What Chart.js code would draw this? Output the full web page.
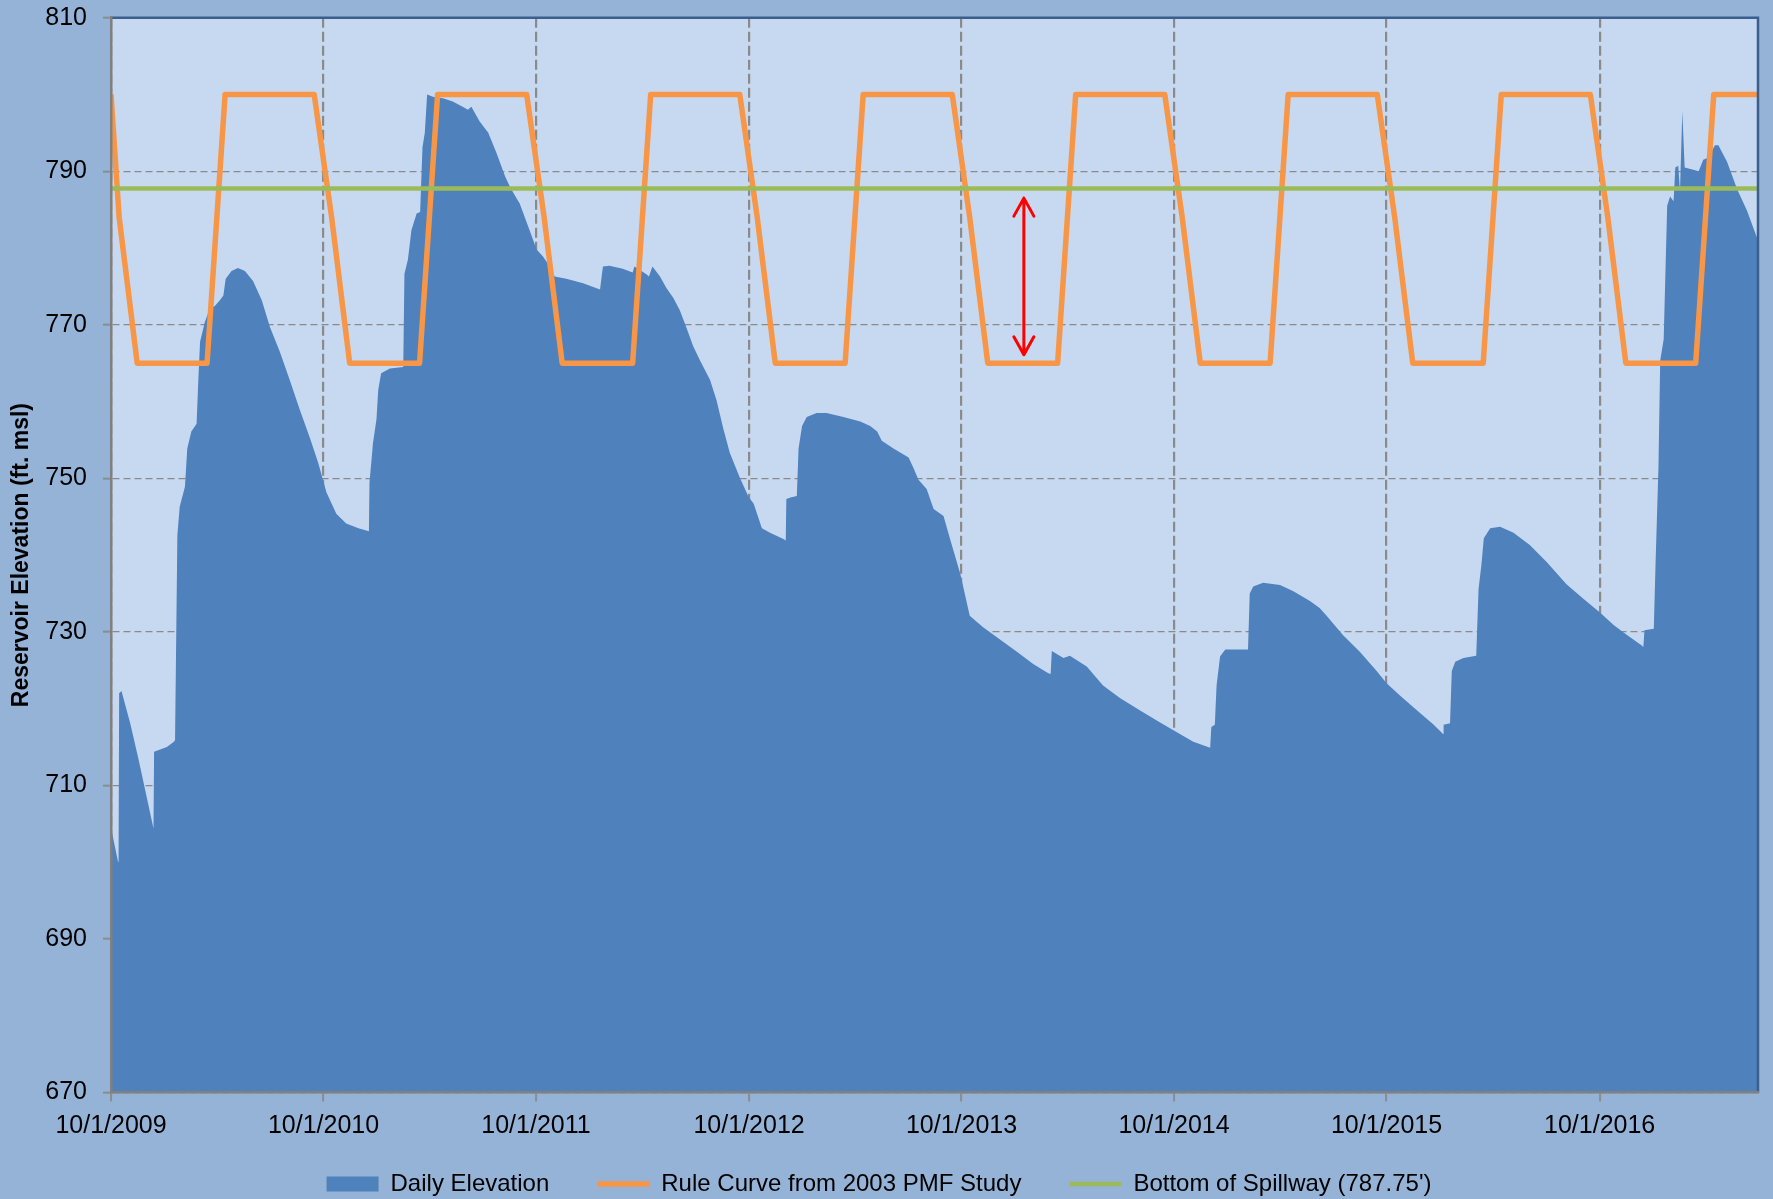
<!DOCTYPE html>
<html>
<head>
<meta charset="utf-8">
<title>Reservoir Elevation</title>
<script src="https://cdn.jsdelivr.net/npm/chart.js@4.4.1/dist/chart.umd.min.js"></script>
<style>
  html, body { margin: 0; padding: 0; background: #95B3D7; }
  #wrap { width: 1773px; height: 1199px; }
</style>
</head>
<body>
<div id="wrap"><canvas id="chart" width="1773" height="1199"></canvas></div>
<script>
// Daily elevation (ft. msl)
const elevDates = [
    '10/1/2009', '10/13/2009', '10/14/2009', '10/15/2009', '10/19/2009', '11/3/2009', '11/17/2009', '12/13/2009',
    '12/14/2009', '1/5/2010', '1/17/2010', '1/19/2010', '1/23/2010', '1/27/2010', '2/5/2010', '2/9/2010',
    '2/16/2010', '2/25/2010', '2/28/2010', '3/3/2010', '3/11/2010', '3/20/2010', '3/28/2010', '4/6/2010',
    '4/12/2010', '4/16/2010', '4/26/2010', '5/7/2010', '5/19/2010', '6/2/2010', '6/17/2010', '7/1/2010',
    '7/18/2010', '8/4/2010', '8/21/2010', '9/8/2010', '9/22/2010',
    '10/6/2010', '10/23/2010', '11/9/2010', '11/30/2010', '12/18/2010', '12/19/2010', '12/22/2010', '12/25/2010',
    '12/31/2010', '1/3/2011', '1/8/2011', '1/23/2011', '2/15/2011', '2/17/2011', '2/23/2011', '3/1/2011',
    '3/10/2011', '3/16/2011', '3/20/2011', '3/24/2011', '3/28/2011', '4/7/2011', '4/24/2011', '5/11/2011',
    '5/28/2011', '6/6/2011', '6/12/2011', '6/26/2011', '7/11/2011', '7/25/2011', '8/9/2011', '8/17/2011',
    '8/26/2011', '9/3/2011', '9/20/2011',
    '10/2/2011', '10/13/2011', '10/22/2011', '11/2/2011', '11/22/2011', '12/21/2011', '1/19/2012', '1/24/2012',
    '2/4/2012', '2/27/2012', '3/15/2012', '3/18/2012', '4/7/2012', '4/12/2012', '4/18/2012', '5/1/2012',
    '5/12/2012', '5/24/2012', '6/4/2012', '6/15/2012', '6/27/2012', '7/9/2012', '7/26/2012', '8/6/2012',
    '8/18/2012', '8/29/2012', '9/15/2012', '9/30/2012',
    '10/9/2012', '10/23/2012', '11/6/2012', '11/29/2012', '12/3/2012', '12/4/2012', '12/11/2012', '12/22/2012',
    '12/25/2012', '12/31/2012', '1/8/2013', '1/25/2013', '2/11/2013', '3/12/2013', '4/10/2013', '4/27/2013',
    '5/9/2013', '5/17/2013', '6/6/2013', '7/2/2013', '7/10/2013', '7/19/2013', '8/2/2013', '8/14/2013',
    '8/31/2013', '9/12/2013', '9/29/2013',
    '10/15/2013', '11/7/2013', '12/6/2013', '1/4/2014', '2/1/2014', '2/27/2014', '3/3/2014', '3/5/2014',
    '3/25/2014', '4/5/2014', '5/4/2014', '6/1/2014', '6/30/2014', '8/3/2014', '9/7/2014',
    '10/11/2014', '11/3/2014', '12/2/2014', '12/4/2014', '12/10/2014', '12/13/2014', '12/19/2014', '12/28/2014',
    '1/16/2015', '2/5/2015', '2/8/2015', '2/14/2015', '3/3/2015', '4/1/2015', '4/24/2015', '5/23/2015',
    '6/8/2015', '6/20/2015', '7/18/2015', '8/16/2015', '9/14/2015',
    '10/1/2015', '10/24/2015', '11/22/2015', '12/21/2015', '1/6/2016', '1/7/2016', '1/18/2016', '1/21/2016',
    '1/27/2016', '2/10/2016', '3/3/2016', '3/7/2016', '3/12/2016', '3/16/2016', '3/27/2016', '4/13/2016',
    '5/6/2016', '6/3/2016', '7/2/2016', '8/5/2016', '9/3/2016',
    '10/2/2016', '10/25/2016', '11/17/2016', '12/13/2016', '12/15/2016', '12/17/2016', '1/2/2017', '1/5/2017',
    '1/10/2017', '1/13/2017', '1/19/2017', '1/25/2017', '1/30/2017', '2/5/2017', '2/8/2017', '2/13/2017',
    '2/16/2017', '2/20/2017', '2/24/2017', '3/11/2017', '3/20/2017', '3/28/2017', '4/6/2017', '4/17/2017',
    '4/23/2017', '5/8/2017', '5/25/2017', '6/11/2017', '6/28/2017', '6/30/2017'
];
const elevValues = [
    704.5, 700.1, 700.0, 722.0, 722.3, 718.1, 713.5, 704.4,
    714.4, 715.0, 715.7, 715.9, 742.6, 746.3, 748.9, 753.9,
    756.1, 757.1, 762.8, 767.8, 770.3, 772.2, 772.4, 773.2,
    773.8, 776.0, 777.0, 777.4, 777.0, 775.7, 773.2, 769.7,
    766.5, 762.8, 759.0, 755.2, 752.0,
    748.2, 745.4, 744.1, 743.5, 743.1, 749.5, 752.0, 754.6,
    757.7, 761.5, 763.7, 764.3, 764.5, 776.6, 778.5, 782.3,
    784.5, 784.7, 793.1, 795.0, 800.0, 799.7, 799.5, 799.1,
    798.4, 798.0, 798.4, 796.5, 795.0, 792.4, 789.3, 788.0,
    786.8, 785.8, 782.3,
    779.8, 778.9, 777.9, 776.3, 776.0, 775.4, 774.6, 777.6,
    777.7, 777.3, 776.8, 777.6, 776.6, 776.3, 777.6, 776.3,
    774.8, 773.5, 771.9, 769.7, 767.2, 765.3, 762.8, 760.2,
    756.4, 753.3, 750.1, 747.6,
    746.7, 743.5, 742.9, 742.1, 741.9, 747.3, 747.5, 747.7,
    753.9, 756.8, 758.0, 758.5, 758.5, 758.0, 757.4, 756.8,
    756.1, 754.9, 753.9, 752.7, 751.4, 749.8, 748.6, 746.0,
    745.1, 741.9, 737.5,
    732.1, 730.6, 729.0, 727.4, 725.8, 724.6, 724.5, 727.5,
    726.6, 726.9, 725.5, 723.0, 721.4, 719.8, 718.2,
    716.7, 715.7, 714.9, 717.6, 717.9, 723.0, 726.8, 727.7,
    727.7, 727.7, 735.0, 735.9, 736.4, 736.1, 735.3, 734.0,
    733.1, 732.1, 729.6, 727.4, 724.9,
    723.3, 721.7, 719.8, 717.9, 716.7, 717.9, 718.1, 724.9,
    726.1, 726.6, 726.9, 735.6, 738.8, 742.2, 743.5, 743.7,
    742.9, 741.3, 739.1, 736.2, 734.3,
    732.5, 730.9, 729.6, 728.2, 728.0, 730.2, 730.4, 738.8,
    751.4, 765.3, 768.1, 785.5, 786.7, 786.1, 790.5, 790.7,
    787.4, 797.8, 790.5, 790.2, 790.0, 791.5, 791.8, 793.4,
    793.4, 791.2, 787.7, 784.9, 781.4, 781.0
];

// Rule curve from 2003 PMF study
const ruleDates = [
    '10/1/2009', '10/15/2009', '11/15/2009',
    '3/15/2010', '4/15/2010', '9/15/2010', '10/15/2010', '11/15/2010',
    '3/15/2011', '4/15/2011', '9/15/2011', '10/15/2011', '11/15/2011',
    '3/15/2012', '4/15/2012', '9/15/2012', '10/15/2012', '11/15/2012',
    '3/15/2013', '4/15/2013', '9/15/2013', '10/15/2013', '11/15/2013',
    '3/15/2014', '4/15/2014', '9/15/2014', '10/15/2014', '11/15/2014',
    '3/15/2015', '4/15/2015', '9/15/2015', '10/15/2015', '11/15/2015',
    '3/15/2016', '4/15/2016', '9/15/2016', '10/15/2016', '11/15/2016',
    '3/15/2017', '4/15/2017', '6/30/2017'
];
const ruleValues = [
    800, 784, 765,
    765, 800, 800, 784, 765,
    765, 800, 800, 784, 765,
    765, 800, 800, 784, 765,
    765, 800, 800, 784, 765,
    765, 800, 800, 784, 765,
    765, 800, 800, 784, 765,
    765, 800, 800, 784, 765,
    765, 800, 800
];

// Bottom of spillway
const spillwayDates = ['10/1/2009', '6/30/2017'];
const spillwayValues = [787.75, 787.75];

const xTickLabels = ['10/1/2009', '10/1/2010', '10/1/2011', '10/1/2012', '10/1/2013', '10/1/2014', '10/1/2015', '10/1/2016'];
const xStart = '10/1/2009';
const xEnd = '6/30/2017';
const yMin = 670;
const yMax = 810;
const yStep = 20;

// red double arrow (date, low, high)
const arrowDate = '1/16/2014';
const arrowLow = 766.1;
const arrowHigh = 786.5;

const FONT = "'Liberation Sans', Arial, sans-serif";

function toTime(s) {
    const [m, d, y] = s.split('/').map(Number);
    return Date.UTC(y, m - 1, d);
}

function toPoints(dates, values) {
    return dates.map((d, i) => ({ x: toTime(d), y: values[i] }));
}

const decor = {
    id: 'decor',
    afterLayout(chart) {
        // pull the legend row up a little, the axis box keeps its room for the tick labels
        const lg = chart.legend;
        if (lg) {
            lg.top -= 18.5;
            lg.bottom -= 18.5;
        }
    },
    beforeDraw(chart) {
        const { ctx, chartArea: a } = chart;
        ctx.save();
        ctx.fillStyle = '#95B3D7';
        ctx.fillRect(0, 0, chart.width, chart.height);
        ctx.fillStyle = '#C6D9F1';
        ctx.fillRect(a.left, a.top, a.right - a.left, a.bottom - a.top);
        ctx.restore();
    },
    afterDatasetsDraw(chart) {
        const { ctx, chartArea: a, scales } = chart;
        ctx.save();
        // plot area border, top and right
        ctx.strokeStyle = '#3A5F8E';
        ctx.lineWidth = 2.5;
        ctx.beginPath();
        ctx.moveTo(a.left, a.top);
        ctx.lineTo(a.right, a.top);
        ctx.lineTo(a.right, a.bottom);
        ctx.stroke();

        // red arrow
        const x = scales.x.getPixelForValue(toTime(arrowDate));
        const y1 = scales.y.getPixelForValue(arrowHigh);
        const y2 = scales.y.getPixelForValue(arrowLow);
        ctx.strokeStyle = '#FF0000';
        ctx.lineWidth = 3;
        ctx.lineCap = 'round';
        ctx.lineJoin = 'round';
        ctx.beginPath();
        ctx.moveTo(x, y1);
        ctx.lineTo(x, y2);
        ctx.moveTo(x - 10, y1 + 18);
        ctx.lineTo(x, y1);
        ctx.lineTo(x + 10, y1 + 18);
        ctx.moveTo(x - 10, y2 - 18);
        ctx.lineTo(x, y2);
        ctx.lineTo(x + 10, y2 - 18);
        ctx.stroke();
        ctx.restore();
    }
};

const ctx = document.getElementById('chart').getContext('2d');
const chart = new Chart(ctx, {
    type: 'line',
    data: {
        datasets: [{
            label: 'Daily Elevation',
            data: toPoints(elevDates, elevValues),
            fill: 'start',
            backgroundColor: '#4F81BD',
            borderColor: '#4F81BD',
            borderWidth: 0,
            pointRadius: 0,
            pointStyle: 'rect',
            pointBorderWidth: 0,
            order: 3
        }, {
            label: 'Rule Curve from 2003 PMF Study',
            data: toPoints(ruleDates, ruleValues),
            fill: false,
            borderColor: '#F79646',
            backgroundColor: '#F79646',
            borderWidth: 5.5,
            borderJoinStyle: 'round',
            pointRadius: 0,
            pointStyle: 'line',
            pointBorderWidth: 5.5,
            order: 2
        }, {
            label: "Bottom of Spillway (787.75')",
            data: toPoints(spillwayDates, spillwayValues),
            fill: false,
            borderColor: '#9BBB59',
            backgroundColor: '#9BBB59',
            borderWidth: 4.5,
            pointRadius: 0,
            pointStyle: 'line',
            pointBorderWidth: 4.5,
            order: 1
        }]
    },
    options: {
        responsive: false,
        devicePixelRatio: 1,
        animation: false,
        events: [],
        layout: { padding: { top: 17.7, right: 15, bottom: -25.5, left: 0 } },
        elements: { line: { tension: 0 } },
        plugins: {
            tooltip: { enabled: false },
            legend: {
                position: 'bottom',
                labels: {
                    usePointStyle: true,
                    pointStyleWidth: 52,
                    boxHeight: 15,
                    padding: 48,
                    color: '#000',
                    font: { family: FONT, size: 24 },
                    sort: (a, b) => a.datasetIndex - b.datasetIndex
                }
            }
        },
        scales: {
            x: {
                type: 'linear',
                min: toTime(xStart),
                max: toTime(xEnd),
                afterBuildTicks: axis => {
                    axis.ticks = xTickLabels.map(s => ({ value: toTime(s) }));
                },
                afterFit: axis => { axis.height = 50; },
                ticks: {
                    autoSkip: false,
                    maxRotation: 0,
                    padding: 10,
                    color: '#000',
                    font: { family: FONT, size: 25 },
                    callback: (v, i) => xTickLabels[i]
                },
                grid: { color: '#8A8A8A', lineWidth: 2.2, tickLength: 9, tickColor: '#8C8C8C', tickWidth: 2 },
                border: { color: '#808080', width: 2.5, dash: [10, 4], z: 1 }
            },
            y: {
                min: yMin,
                max: yMax,
                afterFit: axis => {
                    axis.width = 111;
                    axis.paddingTop = 0;
                    axis.paddingBottom = 0;
                },
                ticks: {
                    stepSize: yStep,
                    padding: 16,
                    color: '#000',
                    font: { family: FONT, size: 25 }
                },
                title: {
                    display: true,
                    text: 'Reservoir Elevation (ft. msl)',
                    color: '#000',
                    font: { family: FONT, size: 23, weight: 'bold' },
                    padding: { top: 8, bottom: 0 }
                },
                grid: { color: '#8A8A8A', lineWidth: 1.3, tickLength: 8, tickColor: '#8C8C8C', tickWidth: 2 },
                border: { color: '#808080', width: 2.5, dash: [7, 4], z: 1 }
            }
        }
    },
    plugins: [decor]
});
</script>
</body>
</html>
